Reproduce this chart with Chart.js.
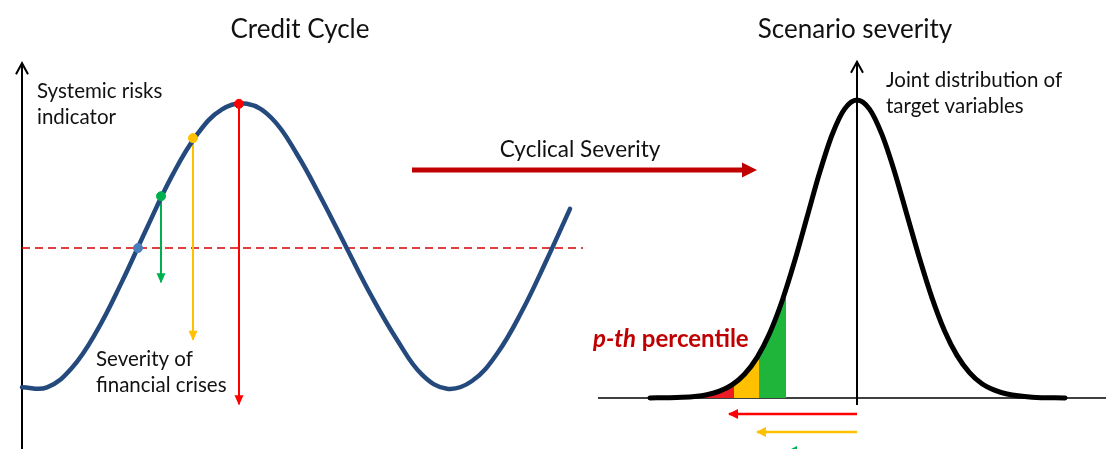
<!DOCTYPE html>
<html>
<head>
<meta charset="utf-8">
<script src="https://cdn.jsdelivr.net/npm/chart.js@4.4.0/dist/chart.umd.min.js"></script>
<style>
  html, body { margin: 0; padding: 0; background: #fff; }
  #wrap { position: relative; width: 1106px; height: 449px; }
</style>
</head>
<body>
<div id="wrap"><canvas id="diagram"></canvas></div>
<script>
// credit cycle: time (years) and systemic risk indicator (0 = threshold)
var cycleTime = [0, 0.5, 1, 1.5, 2, 2.5, 3, 3.5, 4, 4.5, 5, 5.5, 6, 6.5, 7, 7.5, 8, 8.5, 9, 9.5, 10, 10.5, 10.96];
var cycleIndicator = [-1.99, -1.99, -1.71, -1.18, -0.48, 0.29, 1.03, 1.62, 1.98, 2.06, 1.85, 1.34, 0.69, -0.01, -0.70, -1.31, -1.81, -2.01, -1.90, -1.51, -0.90, -0.16, 0.56];
var thresholdLevel = 0;
var thresholdSpan = [0, 11.22];
var breachTime = 2.32;
var crisisTime = [2.78, 3.42, 4.34];
var crisisPeak = [0.74, 1.57, 2.06];
var crisisSeverity = [-0.49, -1.31, -2.23];

// scenario severity: joint distribution of target variables
var distZ = [-4.14, -3.75, -3.5, -3.25, -3.0, -2.75, -2.5, -2.25, -2.0, -1.75, -1.5, -1.25, -1.0, -0.75, -0.5, -0.25, 0, 0.25, 0.5, 0.75, 1.0, 1.25, 1.5, 1.75, 2.0, 2.25, 2.5, 2.75, 3.0, 3.5, 4.16];
var distDensity = [0.0001, 0.0004, 0.0009, 0.002, 0.0044, 0.0091, 0.0175, 0.0317, 0.054, 0.0863, 0.1295, 0.1826, 0.242, 0.3011, 0.3521, 0.3867, 0.3989, 0.3867, 0.3525, 0.303, 0.245, 0.187, 0.134, 0.09, 0.057, 0.034, 0.019, 0.0105, 0.0053, 0.0011, 0.0001];
var bandZ = [[-3.08, -2.75, -2.46], [-2.46, -2.2, -1.96], [-1.96, -1.7, -1.42]];
var bandDensity = [[0.0035, 0.0091, 0.0194], [0.0194, 0.0355, 0.0584], [0.0584, 0.094, 0.1456]];
var percentileZ = [-2.56, -2.0, -1.38];

var crisisColors = ['#00B050', '#FFC000', '#FF0000'];
var bandColors = ['#ED1C24', '#FFC000', '#1FB53B'];
var percentileColors = ['#FF0000', '#FFC000', '#00B050'];
var arrowRows = [-0.0214, -0.0455, -0.071];

function pts(xs, ys) {
    return xs.map(function (x, i) { return { x: x, y: ys[i] }; });
}

var datasets = [];

// dots on the cycle
datasets.push({
    data: [{ x: breachTime, y: thresholdLevel }].concat(pts(crisisTime, crisisPeak)),
    xAxisID: 'xc', yAxisID: 'yc',
    showLine: false,
    pointRadius: 4.5,
    pointBackgroundColor: ['#4A7EBB'].concat(crisisColors),
    pointBorderColor: ['#4A7EBB'].concat(crisisColors),
    order: 0
});

datasets.push({
    data: pts(cycleTime, cycleIndicator),
    xAxisID: 'xc', yAxisID: 'yc',
    showLine: true,
    borderColor: '#244A7D',
    borderWidth: 4.5,
    pointRadius: 0,
    tension: 0.4,
    borderCapStyle: 'round',
    order: 1
});

crisisTime.forEach(function (t, i) {
    datasets.push({
        data: [{ x: t, y: crisisPeak[i] }, { x: t, y: crisisSeverity[i] }],
        xAxisID: 'xc', yAxisID: 'yc',
        showLine: true,
        borderColor: crisisColors[i],
        borderWidth: 2,
        pointRadius: 0,
        arrowHead: { length: 9, half: 4.5 },
        order: 2
    });
});

datasets.push({
    data: [{ x: thresholdSpan[0], y: thresholdLevel }, { x: thresholdSpan[1], y: thresholdLevel }],
    xAxisID: 'xc', yAxisID: 'yc',
    showLine: true,
    borderColor: '#D40000',
    borderWidth: 1.6,
    borderDash: [8, 5],
    pointRadius: 0,
    order: 3
});

// right panel
datasets.push({
    data: pts(distZ, distDensity),
    xAxisID: 'xd', yAxisID: 'yd',
    showLine: true,
    borderColor: '#000',
    borderWidth: 5,
    pointRadius: 0,
    cubicInterpolationMode: 'monotone',
    borderCapStyle: 'round',
    order: 0
});

bandZ.forEach(function (zs, i) {
    datasets.push({
        data: pts(zs, bandDensity[i]),
        xAxisID: 'xd', yAxisID: 'yd',
        showLine: true,
        fill: 'origin',
        backgroundColor: bandColors[i],
        borderWidth: 0,
        pointRadius: 0,
        cubicInterpolationMode: 'monotone',
        order: 5
    });
});

percentileZ.forEach(function (z, i) {
    datasets.push({
        data: [{ x: 0, y: arrowRows[i] }, { x: z, y: arrowRows[i] }],
        xAxisID: 'xd', yAxisID: 'yd',
        showLine: true,
        borderColor: percentileColors[i],
        borderWidth: 2.5,
        pointRadius: 0,
        arrowHead: { length: 9, half: 5 },
        order: 2
    });
});

var arrowHeads = {
    id: 'arrowHeads',
    afterDatasetsDraw: function (chart) {
        var ctx = chart.ctx;
        chart.data.datasets.forEach(function (ds, i) {
            if (!ds.arrowHead) return;
            var el = chart.getDatasetMeta(i).data;
            var a = el[el.length - 2], b = el[el.length - 1];
            var ang = Math.atan2(b.y - a.y, b.x - a.x);
            ctx.save();
            ctx.translate(b.x, b.y);
            ctx.rotate(ang);
            ctx.beginPath();
            ctx.moveTo(1, 0);
            ctx.lineTo(-ds.arrowHead.length, -ds.arrowHead.half);
            ctx.lineTo(-ds.arrowHead.length, ds.arrowHead.half);
            ctx.closePath();
            ctx.fillStyle = ds.borderColor;
            ctx.fill();
            ctx.restore();
        });
    }
};

function openArrowUp(ctx, x, yTop, yBottom) {
    ctx.beginPath();
    ctx.moveTo(x, yBottom);
    ctx.lineTo(x, yTop);
    ctx.stroke();
    ctx.beginPath();
    ctx.moveTo(x - 6, yTop + 11);
    ctx.lineTo(x, yTop);
    ctx.lineTo(x + 6, yTop + 11);
    ctx.stroke();
}

var axesAndText = {
    id: 'axesAndText',
    beforeDatasetsDraw: function (chart) {
        var ctx = chart.ctx, s = chart.scales;
        ctx.save();
        ctx.strokeStyle = '#000';
        ctx.lineWidth = 2;
        openArrowUp(ctx, s.xc.getPixelForValue(0), s.yc.getPixelForValue(2.64), chart.height);
        openArrowUp(ctx, s.xd.getPixelForValue(0), s.yd.getPixelForValue(0.45), s.yd.getPixelForValue(-0.0094));
        ctx.lineWidth = 1.5;
        ctx.beginPath();
        ctx.moveTo(s.xd.getPixelForValue(-5.18), s.yd.getPixelForValue(0));
        ctx.lineTo(chart.width, s.yd.getPixelForValue(0));
        ctx.stroke();
        ctx.restore();
    },
    afterDraw: function (chart) {
        var ctx = chart.ctx;
        ctx.save();
        ctx.fillStyle = '#111';
        ctx.textBaseline = 'alphabetic';

        ctx.font = '26px Lato';
        ctx.textAlign = 'center';
        ctx.fillText('Credit Cycle', 300, 38);
        ctx.fillText('Scenario severity', 855, 38);

        ctx.font = '22.5px Lato';
        ctx.fillText('Cyclical Severity', 580, 157);

        ctx.textAlign = 'left';
        ctx.font = '20.5px Lato';
        ctx.fillText('Systemic risks', 37, 98);
        ctx.fillText('indicator', 37, 124);
        ctx.fillText('Severity of', 96, 366);
        ctx.fillText('financial crises', 96, 392);
        ctx.fillText('Joint distribution of', 886, 87);
        ctx.fillText('target variables', 886, 113);

        // connector arrow between the two panels
        ctx.strokeStyle = '#C00000';
        ctx.fillStyle = '#C00000';
        ctx.lineWidth = 5;
        ctx.beginPath();
        ctx.moveTo(412, 170);
        ctx.lineTo(744, 170);
        ctx.stroke();
        ctx.beginPath();
        ctx.moveTo(757, 170);
        ctx.lineTo(742, 162.5);
        ctx.lineTo(742, 177.5);
        ctx.closePath();
        ctx.fill();

        ctx.font = 'italic bold 24px Lato';
        ctx.fillText('p-th', 593, 347);
        var w = ctx.measureText('p-th').width;
        ctx.font = 'bold 24px Lato';
        ctx.fillText(' percentile', 593 + w, 347);
        ctx.restore();
    }
};

new Chart(document.getElementById('diagram').getContext('2d'), {
    type: 'scatter',
    data: { datasets: datasets },
    options: {
        responsive: true,
        maintainAspectRatio: false,
        animation: false,
        events: [],
        layout: { padding: 0, autoPadding: false },
        plugins: { legend: { display: false }, tooltip: { enabled: false } },
        scales: {
            xc: { type: 'linear', display: false, min: -0.44, max: 21.68 },
            yc: { type: 'linear', display: false, min: -2.871, max: 3.543 },
            xd: { type: 'linear', display: false, min: -17.14, max: 4.98 },
            yd: { type: 'linear', display: false, min: -0.0683, max: 0.5328 }
        }
    },
    plugins: [axesAndText, arrowHeads]
});
</script>
</body>
</html>
